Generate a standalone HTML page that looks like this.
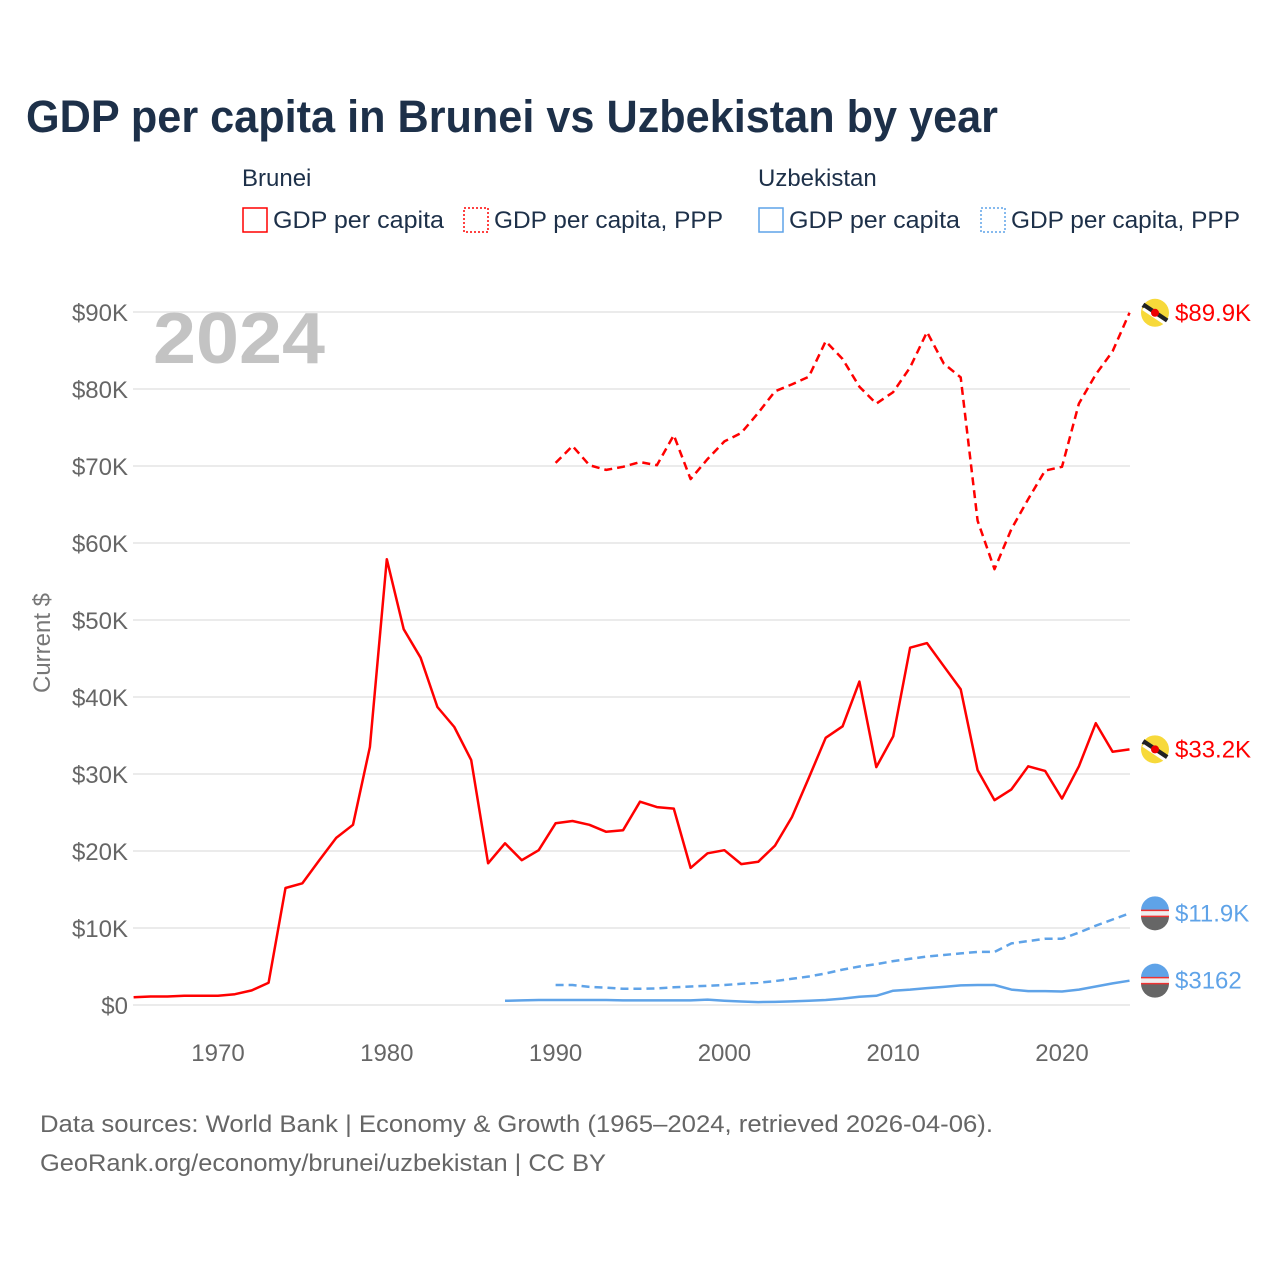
<!DOCTYPE html>
<html><head><meta charset="utf-8">
<style>
body{margin:0;background:#fff;font-family:"Liberation Sans",sans-serif;}
#wrap{position:relative;width:1280px;height:1280px;overflow:hidden;}
</style></head>
<body><div id="wrap">
<svg id="chart" width="1280" height="1280" xmlns="http://www.w3.org/2000/svg"></svg>
</div>
<script>
const years = [];
for (let y = 1965; y <= 2024; y++) years.push(y);
const bruneiGdp = [1.0,1.1,1.1,1.2,1.2,1.2,1.4,1.9,2.9,15.2,15.8,18.8,21.7,23.4,33.5,57.9,48.8,45.1,38.7,36.1,31.8,18.4,21.0,18.8,20.1,23.6,23.9,23.4,22.5,22.7,26.4,25.7,25.5,17.8,19.7,20.1,18.3,18.6,20.7,24.4,29.5,34.7,36.2,42.0,30.9,34.9,46.4,47.0,44.0,41.0,30.5,26.6,28.0,31.0,30.4,26.8,31.0,36.6,32.9,33.2];
const ppYears = [];
for (let y = 1990; y <= 2024; y++) ppYears.push(y);
const bruneiPpp = [70.4,72.6,70.1,69.5,69.9,70.5,70.1,74.0,68.3,70.9,73.2,74.3,76.9,79.7,80.6,81.6,86.2,83.9,80.3,78.1,79.6,82.8,87.4,83.3,81.5,62.9,56.6,61.8,65.7,69.4,69.9,78.1,81.9,84.9,89.9];
const uzYears = [];
for (let y = 1987; y <= 2024; y++) uzYears.push(y);
const uzGdp = [0.55,0.6,0.65,0.65,0.65,0.65,0.65,0.6,0.6,0.6,0.6,0.6,0.7,0.56,0.46,0.38,0.4,0.47,0.55,0.65,0.83,1.08,1.2,1.86,2.0,2.2,2.35,2.55,2.6,2.6,2.0,1.8,1.8,1.75,2.0,2.4,2.8,3.16];
const uzPpp = [2.6,2.6,2.35,2.25,2.1,2.1,2.15,2.3,2.4,2.5,2.6,2.75,2.9,3.1,3.4,3.7,4.1,4.6,5.0,5.3,5.7,6.0,6.3,6.5,6.7,6.9,6.9,8.0,8.3,8.6,8.6,9.4,10.3,11.1,11.9];
const yTicks = [0,10,20,30,40,50,60,70,80,90];
const yTickLabels = ["$0","$10K","$20K","$30K","$40K","$50K","$60K","$70K","$80K","$90K"];
const xTicks = [1970,1980,1990,2000,2010,2020];
const endLabels = ["$89.9K","$33.2K","$11.9K","$3162"];

const NS = "http://www.w3.org/2000/svg";
const svg = document.getElementById('chart');
const X = y => 133.6 + (y - 1965) * 16.88;
const Y = v => 1005 - v * 7.7;
function el(tag, attrs, parent) {
  const e = document.createElementNS(NS, tag);
  for (const k in attrs) e.setAttribute(k, attrs[k]);
  (parent || svg).appendChild(e);
  return e;
}
function txt(s, attrs) { const t = el('text', attrs); t.textContent = s; return t; }

let t = txt("GDP per capita in Brunei vs Uzbekistan by year", {x:26,y:132,'font-size':45,'font-weight':'bold',fill:'#1d3049',textLength:972,lengthAdjust:'spacingAndGlyphs'});
 

const lg = [{x:242, head:"Brunei"},{x:758, head:"Uzbekistan"}];
lg.forEach(g => { const h = txt(g.head,{x:g.x,y:186,'font-size':24,fill:'#1d3049'});
    });
const items = [
  {x:242,c:'#ff0000',d:'',label:'GDP per capita',w:171},
  {x:463,c:'#ff0000',d:'2,2',label:'GDP per capita, PPP',w:229},
  {x:758,c:'#5fa3e8',d:'',label:'GDP per capita',w:171},
  {x:980,c:'#5fa3e8',d:'2,2',label:'GDP per capita, PPP',w:229}
];
items.forEach(it => {
  const g = el('g',{});
   
  el('rect',{x:it.x+1,y:208,width:24,height:24,fill:'none',stroke:it.c,'stroke-width':1.5,'stroke-dasharray':it.d},g);
  const tt = el('text',{x:it.x+31,y:228,'font-size':24,fill:'#1d3049',textLength:it.w,lengthAdjust:'spacingAndGlyphs'},g); tt.textContent = it.label;
});

yTicks.forEach((v,i) => {
  const l = el('line',{x1:133,x2:1130,y1:Y(v),y2:Y(v),stroke:'#ebebeb','stroke-width':2});
   
  const tl = txt(yTickLabels[i],{x:128,y:Y(v)+9,'font-size':24,fill:'#666','text-anchor':'end'});
   
});
xTicks.forEach(yr => {
  const tl = txt(String(yr),{x:X(yr),y:1061,'font-size':24,fill:'#666','text-anchor':'middle'});
   
});
const yt = txt("Current $",{x:0,y:0,'font-size':24,fill:'#777','text-anchor':'middle',transform:'translate(50,643) rotate(-90)'});
 

const yr = txt("2024",{x:153,y:363,'font-size':72,'font-weight':'bold',fill:'#c3c3c3',textLength:172,lengthAdjust:'spacingAndGlyphs'});
 

function line(xs, vs, color, dash, name) {
  const p = el('path',{d: xs.map((x,i)=>(i?'L':'M')+X(x).toFixed(1)+','+Y(vs[i]).toFixed(1)).join(''),fill:'none',stroke:color,'stroke-width':2.5,'stroke-dasharray':dash,'stroke-linejoin':'round'});
   
}
line(ppYears, bruneiPpp, '#ff0000', '8,5', 'brunei-ppp-line');
line(years, bruneiGdp, '#ff0000', '', 'brunei-gdp-line');
line(ppYears, uzPpp, '#5fa3e8', '8,5', 'uzbekistan-ppp-line');
line(uzYears, uzGdp, '#5fa3e8', '', 'uzbekistan-gdp-line');

function bnFlag(cy){
  const g = el('g',{});
   
  el('circle',{cx:1155,cy:cy,r:14,fill:'#f7d93a'},g);
  el('line',{x1:1143,y1:cy-8,x2:1167,y2:cy+8,stroke:'#222','stroke-width':5},g);
  el('line',{x1:1143,y1:cy-4,x2:1167,y2:cy+12,stroke:'#fff','stroke-width':3},g);
  el('circle',{cx:1155,cy:cy,r:4,fill:'#e00'},g);
}
function uzFlag(cy){
  const g = el('g',{});
   
  el('circle',{cx:1155,cy:cy,r:14,fill:'#eee'},g);
  el('path',{d:`M1141,${cy-3} A14,14 0 0 1 1169,${cy-3} Z`,fill:'#5fa3e8'},g);
  el('path',{d:`M1141,${cy+3} A14,14 0 0 0 1169,${cy+3} Z`,fill:'#666'},g);
  el('line',{x1:1141,x2:1169,y1:cy-3,y2:cy-3,stroke:'#e33','stroke-width':1.5},g);
  el('line',{x1:1141,x2:1169,y1:cy+3,y2:cy+3,stroke:'#e33','stroke-width':1.5},g);
}
const ends = [
  {v:bruneiPpp[bruneiPpp.length-1],c:'#ff0000',f:bnFlag},
  {v:bruneiGdp[bruneiGdp.length-1],c:'#ff0000',f:bnFlag},
  {v:uzPpp[uzPpp.length-1],c:'#5fa3e8',f:uzFlag},
  {v:uzGdp[uzGdp.length-1],c:'#5fa3e8',f:uzFlag}
];
ends.forEach((e,i) => {
  const cy = Y(e.v);
  e.f(cy);
  const l = txt(endLabels[i],{x:1175,y:cy+8,'font-size':24,fill:e.c});
   
});

const f1 = txt("Data sources: World Bank | Economy & Growth (1965–2024, retrieved 2026-04-06).",{x:40,y:1132,'font-size':24,fill:'#666',textLength:953,lengthAdjust:'spacingAndGlyphs'});
 
const f2 = txt("GeoRank.org/economy/brunei/uzbekistan | CC BY",{x:40,y:1171,'font-size':24,fill:'#666',textLength:566,lengthAdjust:'spacingAndGlyphs'});
 
</script>
</body></html>
